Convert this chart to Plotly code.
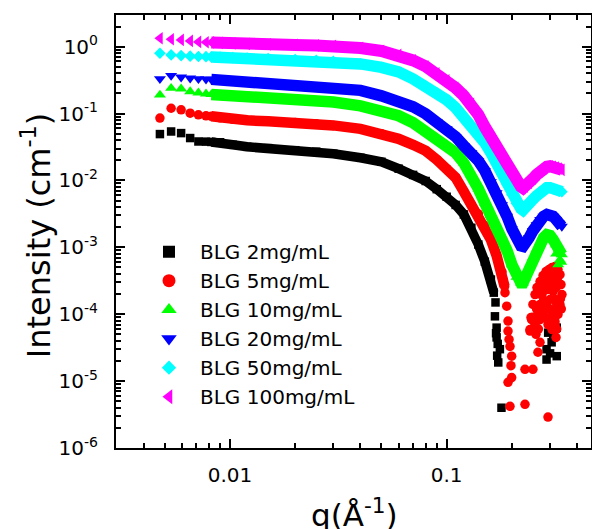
import plotly.graph_objects as go

FONT = "DejaVu Sans"

# ---------------- data ----------------
q_low = [0.00475, 0.00535, 0.00595, 0.00655, 0.00715, 0.00775]

q_band = [0.0082, 0.009, 0.0103, 0.012, 0.015, 0.02, 0.025, 0.03,
          0.04, 0.05, 0.06, 0.07, 0.08, 0.09, 0.1,
          0.11, 0.12, 0.13, 0.14, 0.15, 0.16, 0.17, 0.18, 0.19, 0.2, 0.21, 0.22,
          0.225,
          0.23, 0.24, 0.25, 0.26, 0.27, 0.28, 0.29, 0.3, 0.31, 0.32, 0.33, 0.34]

# BLG 2 mg/mL
I2_low = [0.0493, 0.0539, 0.0510, 0.0430, 0.0382, 0.0380]
q2_band = [0.0082, 0.009, 0.0103, 0.012, 0.015, 0.02, 0.025, 0.03, 0.04, 0.05, 0.06,
           0.07, 0.08, 0.09, 0.1, 0.11, 0.12, 0.13, 0.14, 0.15, 0.16, 0.165]
I2_band = [0.0376, 0.0372, 0.0341, 0.0318, 0.0304, 0.0283, 0.0269, 0.0251, 0.0218, 0.0190,
           0.0150, 0.0121, 0.0098, 0.0074, 0.0057, 0.0043, 0.0031, 0.00196, 0.00110,
           6.1e-4, 3.3e-4, 2.1e-4]
q2_sc = [0.168, 0.167, 0.17, 0.169, 0.17, 0.172, 0.176, 0.173, 0.171, 0.179,
         0.289, 0.294, 0.289, 0.305, 0.31, 0.322, 0.322, 0.3]
I2_sc = [1.5e-4, 9.3e-5, 6.3e-5, 5.2e-5, 4.5e-5, 3.6e-5, 3.0e-5, 1.9e-5, 2.4e-5, 4.0e-6,
         2.1e-5, 5.3e-5, 3.0e-5, 3.8e-5, 4.5e-5, 6.3e-5, 2.36e-5, 2.6e-5]

# BLG 5 mg/mL
I5_low = [0.0854, 0.120, 0.1136, 0.1014, 0.0957, 0.0925]
q5_band = [0.0082, 0.009, 0.0103, 0.012, 0.015, 0.02, 0.025, 0.03, 0.04, 0.05, 0.06,
           0.07, 0.08, 0.09, 0.1, 0.11, 0.12, 0.13, 0.14, 0.15, 0.16, 0.17, 0.18, 0.185]
I5_band = [0.0908, 0.0863, 0.0819, 0.0792, 0.0765, 0.0733, 0.0701, 0.0665, 0.0591, 0.0499,
           0.0419, 0.0340, 0.0277, 0.0204, 0.0150, 0.0110, 0.0068, 0.0043, 0.00316,
           0.0021, 0.0013, 7.5e-4, 4.3e-4, 2.6e-4]
q5_sc = [0.182, 0.1858, 0.1893, 0.1919, 0.1919, 0.196, 0.1995, 0.1995, 0.1919, 0.196,
         0.2298, 0.2935, 0.2298, 0.250, 0.2637, 0.2696, 0.3161, 0.2423, 0.2466, 0.194, 0.198,
         0.2423, 0.2449, 0.25, 0.2556, 0.261, 0.2696, 0.2784, 0.2874, 0.2967, 0.3062,
         0.3161, 0.3263, 0.3333, 0.3369, 0.3404, 0.3333, 0.3263, 0.3161, 0.2998, 0.2843,
         0.2696, 0.2637, 0.2556, 0.2754, 0.2935, 0.3062, 0.3195, 0.2843, 0.2998, 0.3161,
         0.3228, 0.2696, 0.2935, 0.3062, 0.2583, 0.3195,
         0.26, 0.27, 0.28, 0.29, 0.30, 0.31, 0.32, 0.33, 0.30, 0.31, 0.32, 0.28, 0.29,
         0.25, 0.265, 0.335, 0.325, 0.315, 0.305, 0.285, 0.275, 0.338, 0.322]
I5_sc = [3.3e-4, 2.1e-4, 1.32e-4, 7.9e-5, 5.6e-5, 3.3e-5, 2.36e-5, 1.13e-5, 9.6e-6, 4.2e-6,
         4.5e-6, 2.9e-6, 1.5e-5, 1.5e-5, 2.7e-5, 3.8e-5, 7.0e-5, 5.6e-5, 8.3e-5, 4.2e-5, 1.7e-5,
         5.9e-5, 8.9e-5, 1.4e-4, 1.97e-4, 2.5e-4, 3.08e-4, 3.78e-4, 4.34e-4, 4.65e-4, 4.98e-4,
         5.15e-4, 4.65e-4, 3.9e-4, 2.77e-4, 1.97e-4, 1.4e-4, 9.9e-5, 7.8e-5, 8.9e-5, 1.17e-4,
         1.4e-4, 9.9e-5, 7.0e-5, 1.97e-4, 2.34e-4, 2.77e-4, 3.3e-4, 2.77e-4, 1.66e-4, 1.66e-4,
         1.17e-4, 8.3e-5, 7.0e-5, 5.9e-5, 5.0e-5, 4.5e-5,
         1.2e-4, 2.0e-4, 2.5e-4, 3.5e-4, 3.0e-4, 2.2e-4, 2.5e-4, 2.8e-4, 1.2e-4, 1.0e-4,
         1.5e-4, 1.6e-4, 1.3e-4, 9.0e-5, 6.0e-5, 1.7e-4, 3.5e-4, 4.0e-4, 3.8e-4, 9.0e-5,
         1.1e-4, 1.2e-4, 6.0e-5]

# BLG 10 mg/mL
I10_low = [0.190, 0.239, 0.234, 0.213, 0.204, 0.197]
I10_band = [0.193, 0.190, 0.184, 0.177, 0.171, 0.163, 0.155, 0.149,
            0.130, 0.110, 0.0926, 0.0727, 0.0552, 0.0434, 0.0342,
            0.0259, 0.0183, 0.0121, 0.0075, 0.0046, 0.0030, 0.00203, 0.00139, 8.9e-4, 5.5e-4,
            3.6e-4, 2.95e-4, 2.95e-4,
            3.5e-4, 5.0e-4, 7.0e-4, 9.3e-4, 1.18e-3, 1.39e-3, 1.55e-3, 1.5e-3, 1.30e-3,
            1.10e-3, 9.3e-4, 7.8e-4]
q10_sc = [0.327, 0.333, 0.338, 0.32]
I10_sc = [5.5e-4, 6.5e-4, 6.0e-4, 8.0e-4]

# BLG 20 mg/mL
I20_low = [0.330, 0.369, 0.349, 0.337, 0.330, 0.326]
I20_band = [0.324, 0.318, 0.308, 0.297, 0.287, 0.273, 0.259, 0.250,
            0.222, 0.184, 0.155, 0.126, 0.099, 0.075, 0.059,
            0.045, 0.033, 0.0259, 0.0196, 0.0140, 0.0095, 0.0065, 0.0043, 0.0029, 0.00189,
            0.00130, 0.00105, 0.00103,
            0.00110, 0.00139, 0.00177, 0.00217, 0.0026, 0.0029, 0.0031, 0.0031, 0.0029,
            0.0026, 0.00227, 0.00205]

# BLG 50 mg/mL
I50_low = [0.797, 0.752, 0.734, 0.719, 0.712, 0.707]
I50_band = [0.702, 0.695, 0.685, 0.673, 0.660, 0.640, 0.622, 0.605,
            0.552, 0.489, 0.419, 0.329, 0.259, 0.203, 0.160,
            0.122, 0.089, 0.063, 0.048, 0.0365, 0.0259, 0.0175, 0.0125, 0.0086, 0.0061,
            0.0045, 0.0038, 0.0036,
            0.0038, 0.0043, 0.0052, 0.0059, 0.0068, 0.0074, 0.0078, 0.0078, 0.0075,
            0.0073, 0.0070, 0.0068]

# BLG 100 mg/mL
I100_low = [1.334, 1.29, 1.259, 1.217, 1.175, 1.163]
I100_band = [1.155, 1.135, 1.116, 1.097, 1.079, 1.06, 1.042, 1.024,
             0.956, 0.862, 0.752, 0.622, 0.506, 0.398, 0.313,
             0.242, 0.184, 0.139, 0.096, 0.063, 0.0433, 0.0316, 0.0233, 0.0171, 0.0130,
             0.0099, 0.0081, 0.0077,
             0.0081, 0.0092, 0.0106, 0.0122, 0.0138, 0.0150, 0.0160, 0.0163, 0.0160,
             0.0156, 0.0150, 0.0144]

labels = ["BLG 2mg/mL", "BLG 5mg/mL", "BLG 10mg/mL", "BLG 20mg/mL",
          "BLG 50mg/mL", "BLG 100mg/mL"]
colors = ["#000000", "#FF0000", "#00FF00", "#0000FF", "#00FFFF", "#FF00FF"]
symbols = ["square", "circle", "triangle-up", "triangle-down", "diamond", "triangle-left"]
msizes = [8.5, 9.5, 10.5, 10.5, 9, 11]
lwidths = [9.5, 10.5, 11.5, 11.5, 11.5, 12]
leg_sizes = [12, 13, 13.5, 13.5, 11, 13]

series = [
    (I2_low, q2_band, I2_band, q2_sc, I2_sc),
    (I5_low, q5_band, I5_band, q5_sc, I5_sc),
    (I10_low, q_band, I10_band, q10_sc, I10_sc),
    (I20_low, q_band, I20_band, [], []),
    (I50_low, q_band, I50_band, [], []),
    (I100_low, q_band, I100_band, [], []),
]

fig = go.Figure()

for k, (Ilow, qb, Ib, qs, Is) in enumerate(series):
    col, sym, ms = colors[k], symbols[k], msizes[k]
    fig.add_trace(go.Scatter(x=qb, y=Ib, mode="lines", showlegend=False,
                             line=dict(color=col, width=lwidths[k]), hoverinfo="skip"))
    fig.add_trace(go.Scatter(x=q_low + qb, y=Ilow + Ib, mode="markers", showlegend=False,
                             marker=dict(symbol=sym, color=col, size=ms, line=dict(width=0))))
    if qs:
        fig.add_trace(go.Scatter(x=qs, y=Is, mode="markers", showlegend=False,
                                 marker=dict(symbol=sym, color=col, size=ms, line=dict(width=0))))

for k in range(6):
    fig.add_trace(go.Scatter(x=[None], y=[None], mode="markers", name=labels[k],
                             marker=dict(symbol=symbols[k], color=colors[k], size=leg_sizes[k],
                                         line=dict(width=0))))

x_minor = [d * 10 ** e for e in (-3, -2, -1) for d in range(2, 10)]
x_minor = [v for v in x_minor if 0.0029 < v < 0.46]
y_minor = [d * 10 ** e for e in range(-6, 1) for d in range(2, 10)]
y_minor = [v for v in y_minor if v < 2.9]

y_ticks = [1e-6, 1e-5, 1e-4, 1e-3, 1e-2, 1e-1, 1e0]
y_text = ["10<sup>-6</sup>", "10<sup>-5</sup>", "10<sup>-4</sup>", "10<sup>-3</sup>",
          "10<sup>-2</sup>", "10<sup>-1</sup>", "10<sup>0</sup>"]

axis_common = dict(showline=True, linecolor="black", linewidth=2, mirror="ticks",
                   ticks="inside", ticklen=9, tickwidth=2, tickcolor="black",
                   showgrid=False, zeroline=False,
                   tickfont=dict(family=FONT, size=20, color="black"))

fig.update_xaxes(type="log", range=[-2.526, -0.334], tickvals=[0.01, 0.1],
                 ticktext=["0.01", "0.1"], ticklabelstandoff=8,
                 minor=dict(tickvals=x_minor, ticks="inside", ticklen=5, tickwidth=1.5,
                            tickcolor="black", showgrid=False),
                 **axis_common)
fig.update_yaxes(type="log", range=[-6, 0.473], tickvals=y_ticks, ticktext=y_text,
                 ticklabelstandoff=12,
                 minor=dict(tickvals=y_minor, ticks="inside", ticklen=5, tickwidth=1.5,
                            tickcolor="black", showgrid=False),
                 **axis_common)

fig.update_layout(
    width=592, height=529,
    margin=dict(l=116, r=1, t=15, b=81, autoexpand=False),
    paper_bgcolor="white", plot_bgcolor="white",
    font=dict(family=FONT, color="black"),
    legend=dict(x=0.0463, y=0.4985, xanchor="left", yanchor="top",
                font=dict(family=FONT, size=20, color="black"),
                bgcolor="rgba(0,0,0,0)", itemwidth=52, itemsizing="trace",
                traceorder="normal"),
    annotations=[
        dict(text="q(Å<sup>-1</sup>)", x=0.503, y=-0.150, xref="paper", yref="paper",
             xanchor="center", yanchor="middle", showarrow=False,
             font=dict(family=FONT, size=31, color="black")),
        dict(text="Intensity (cm<sup>-1</sup>)", x=-0.168, y=0.492, xref="paper",
             yref="paper", xanchor="center", yanchor="middle", showarrow=False,
             textangle=-90, font=dict(family=FONT, size=32, color="black")),
    ],
)

fig.write_html("out.html")
